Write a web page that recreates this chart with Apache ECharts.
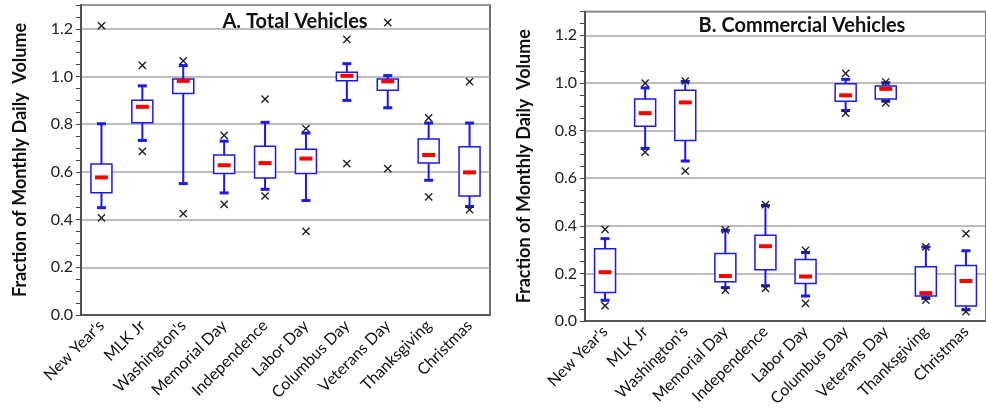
<!DOCTYPE html>
<html>
<head>
<meta charset="utf-8">
<script src="https://cdn.jsdelivr.net/npm/echarts@6/dist/echarts.min.js"></script>
<style>
html,body{margin:0;padding:0;background:#fff;}
#chart{width:986px;height:418px;}
</style>
</head>
<body>
<div id="chart"></div>
<script>
// ---- Data ----
const categories = ["New Year's", "MLK Jr", "Washington's", "Memorial Day", "Independence", "Labor Day", "Columbus Day", "Veterans Day", "Thanksgiving", "Christmas"];
const yTickLabels = ["0.0", "0.2", "0.4", "0.6", "0.8", "1.0", "1.2"];

// Panel A: Total Vehicles
const totalMin     = [0.407, 0.686, 0.425, 0.464, 0.499, 0.351, 0.635, 0.614, 0.495, 0.442];
const totalLow     = [0.450, 0.732, 0.551, 0.512, 0.527, 0.480, 0.900, 0.869, 0.565, 0.455];
const totalQ1      = [0.513, 0.806, 0.929, 0.593, 0.575, 0.593, 0.982, 0.943, 0.637, 0.499];
const totalMedian  = [0.577, 0.873, 0.982, 0.628, 0.637, 0.656, 1.003, 0.980, 0.671, 0.598];
const totalQ3      = [0.633, 0.901, 0.990, 0.671, 0.708, 0.695, 1.018, 0.990, 0.738, 0.706];
const totalHigh    = [0.802, 0.961, 1.046, 0.729, 0.808, 0.763, 1.054, 1.004, 0.805, 0.805];
const totalMax     = [1.213, 1.047, 1.066, 0.753, 0.905, 0.782, 1.156, 1.226, 0.827, 0.979];

// Panel B: Commercial Vehicles
const commMin      = [0.064, 0.709, 0.630, 0.130, 0.137, 0.074, 0.873, 0.916, 0.088, 0.039];
const commLow      = [0.087, 0.725, 0.672, 0.140, 0.148, 0.105, 0.884, 0.923, 0.095, 0.047];
const commQ1       = [0.120, 0.818, 0.758, 0.165, 0.215, 0.158, 0.923, 0.932, 0.105, 0.063];
const commMedian   = [0.205, 0.873, 0.918, 0.189, 0.314, 0.187, 0.948, 0.975, 0.117, 0.168];
const commQ3       = [0.303, 0.932, 0.969, 0.284, 0.360, 0.258, 0.997, 0.987, 0.228, 0.233];
const commHigh     = [0.346, 0.979, 1.006, 0.381, 0.485, 0.288, 1.015, 1.001, 0.311, 0.295];
const commMax      = [0.385, 0.999, 1.008, 0.383, 0.489, 0.297, 1.040, 1.004, 0.311, 0.367];

// ---- Build ----
function rows(mn, lo, q1, md, q3, hi, mx) {
  return categories.map((c, i) => [i, mn[i], lo[i], q1[i], md[i], q3[i], hi[i], mx[i]]);
}
const FONT = 'Lato';
const BLUE = '#1a1aee';

function renderBox(params, api) {
  const idx = api.value(0);
  const x = api.coord([idx, 0])[0];
  const y = [];
  for (let k = 1; k <= 7; k++) y.push(api.coord([idx, api.value(k)])[1]);
  const [yMin, yLo, yQ1, yMd, yQ3, yHi, yMax] = y;
  const bw = 21, cw = 9, mw = 13, xs = 3.6;
  const xMark = (yy) => [
    { type: 'line', shape: { x1: x - xs, y1: yy - xs, x2: x + xs, y2: yy + xs }, style: { stroke: '#222', lineWidth: 1.4 } },
    { type: 'line', shape: { x1: x - xs, y1: yy + xs, x2: x + xs, y2: yy - xs }, style: { stroke: '#222', lineWidth: 1.4 } }
  ];
  return {
    type: 'group',
    children: [
      { type: 'line', shape: { x1: x, y1: yHi, x2: x, y2: yLo }, style: { stroke: BLUE, lineWidth: 2 } },
      { type: 'rect', shape: { x: x - bw / 2, y: yQ3, width: bw, height: yQ1 - yQ3 }, style: { fill: '#fff', stroke: BLUE, lineWidth: 1.5 } },
      { type: 'line', shape: { x1: x - cw / 2, y1: yHi, x2: x + cw / 2, y2: yHi }, style: { stroke: BLUE, lineWidth: 3 } },
      { type: 'line', shape: { x1: x - cw / 2, y1: yLo, x2: x + cw / 2, y2: yLo }, style: { stroke: BLUE, lineWidth: 3 } },
      { type: 'line', shape: { x1: x - mw / 2, y1: yMd, x2: x + mw / 2, y2: yMd }, style: { stroke: '#ff0000', lineWidth: 4 } }
    ].concat(xMark(yMin), xMark(yMax))
  };
}

function yAxes(gi) {
  return [
    {
      type: 'value', gridIndex: gi, min: 0, max: 1.3, interval: 0.05,
      name: 'Fraction of Monthly Daily  Volume', nameLocation: 'middle', nameGap: 52,
      nameTextStyle: { fontFamily: FONT, fontWeight: 'bold', fontSize: 18, color: '#111' },
      axisLine: { show: true, lineStyle: { color: '#444', width: 1.5 } },
      axisTick: { show: true, length: 5, inside: false, lineStyle: { color: '#444', width: 1 } },
      axisLabel: {
        fontFamily: FONT, fontSize: 16, color: '#222', margin: 8,
        formatter: function (v) {
          const k = Math.round(v / 0.2);
          return (Math.abs(v - k * 0.2) < 1e-6 && k < yTickLabels.length) ? yTickLabels[k] : '';
        }
      },
      splitLine: { show: false }
    },
    {
      type: 'value', gridIndex: gi, min: 0, max: 1.3, interval: 0.2,
      axisLine: { show: false }, axisTick: { show: false }, axisLabel: { show: false },
      splitLine: { show: true, lineStyle: { color: '#a6a6a6', width: 1.5 } }
    }
  ];
}
function xAxis(gi) {
  return {
    type: 'category', gridIndex: gi, data: categories, boundaryGap: true,
    axisLine: { show: true, lineStyle: { color: '#444', width: 1.5 } },
    axisTick: { show: false },
    axisLabel: { rotate: 45, interval: 0, fontFamily: FONT, fontSize: 16, color: '#111', margin: 8 }
  };
}

const chart = echarts.init(document.getElementById('chart'), null, { renderer: 'canvas' });
chart.setOption({
  animation: false,
  backgroundColor: '#fff',
  title: [
    { text: 'A. Total Vehicles', left: 290, top: 7, textAlign: 'center', textStyle: { fontFamily: FONT, fontWeight: 'bold', fontSize: 20, color: '#111' } },
    { text: 'B. Commercial Vehicles', left: 797, top: 11, textAlign: 'center', textStyle: { fontFamily: FONT, fontWeight: 'bold', fontSize: 20, color: '#111' } }
  ],
  grid: [
    { left: 81, top: 5, width: 409, height: 310, show: true, borderColor: '#444', borderWidth: 1.5, backgroundColor: 'transparent' },
    { left: 585, top: 11.5, width: 408, height: 309.5, show: true, borderColor: '#444', borderWidth: 1.5, backgroundColor: 'transparent' }
  ],
  xAxis: [xAxis(0), xAxis(1)],
  yAxis: yAxes(0).concat(yAxes(1)),
  series: [
    { type: 'custom', xAxisIndex: 0, yAxisIndex: 0, renderItem: renderBox, clip: false,
      encode: { x: 0, y: [1, 2, 3, 4, 5, 6, 7] },
      data: rows(totalMin, totalLow, totalQ1, totalMedian, totalQ3, totalHigh, totalMax) },
    { type: 'custom', xAxisIndex: 1, yAxisIndex: 2, renderItem: renderBox, clip: false,
      encode: { x: 0, y: [1, 2, 3, 4, 5, 6, 7] },
      data: rows(commMin, commLow, commQ1, commMedian, commQ3, commHigh, commMax) }
  ]
});
</script>
</body>
</html>
